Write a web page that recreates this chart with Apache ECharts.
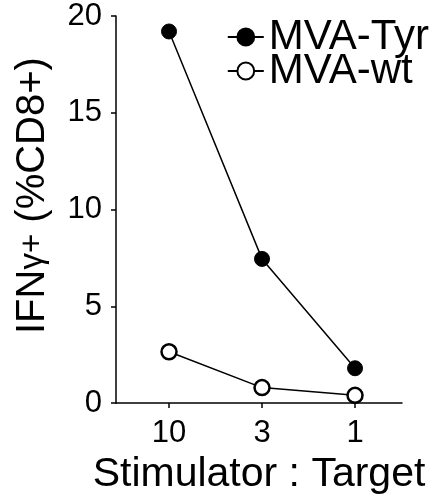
<!DOCTYPE html>
<html lang="en">
<head>
    <meta charset="UTF-8">
    <title>IFNg+ CD8 response</title>
    <script src="https://cdn.jsdelivr.net/npm/echarts@6/dist/echarts.min.js"></script>
    <style>
        html, body { margin: 0; padding: 0; background: #fff; }
        #main { width: 434px; height: 500px; }
    </style>
</head>
<body>
    <div id="main"></div>
    <script>
        // data
        var ratios = ['10', '3', '1'];
        var mvaTyr = [19.2, 7.45, 1.8];
        var mvaWt = [2.65, 0.8, 0.4];
        var yTicks = [0, 5, 10, 15, 20];

        var font = 'Liberation Sans, Arial, sans-serif';
        var chart = echarts.init(document.getElementById('main'));

        function toPoints(vals) {
            return vals.map(function (v, i) { return [i, v]; });
        }

        var option = {
            animation: false,
            backgroundColor: '#fff',
            textStyle: { fontFamily: font, color: '#000' },
            grid: { left: 116, right: 32, top: 16, bottom: 95 },
            legend: {
                orient: 'vertical',
                right: 5,
                top: 16,
                padding: 0,
                itemWidth: 36,
                itemHeight: 21,
                itemGap: -8,
                textStyle: { fontSize: 42, fontFamily: font, color: '#000', lineHeight: 31 },
                data: ['MVA-Tyr', 'MVA-wt']
            },
            xAxis: {
                type: 'value',
                min: -0.57,
                max: 2.505,
                name: 'Stimulator : Target',
                nameLocation: 'middle',
                nameGap: 49,
                nameTextStyle: { fontSize: 41, fontFamily: font, color: '#000' },
                splitLine: { show: false },
                axisLine: { show: true, onZero: false, lineStyle: { color: '#000', width: 1.5 } },
                axisTick: { show: true, length: 5, lineStyle: { color: '#000', width: 1.5 }, customValues: [0, 1, 2] },
                axisLabel: {
                    fontSize: 31, color: '#000', margin: 15, fontFamily: font,
                    customValues: [0, 1, 2],
                    formatter: function (v) { return ratios[Math.round(v)]; }
                }
            },
            yAxis: {
                type: 'value',
                min: 0,
                max: 20,
                interval: 5,
                name: '{a|IFN}{b|γ+}{a| (%CD8+)}',
                nameLocation: 'middle',
                nameGap: 63,
                nameTextStyle: {
                    padding: [0, 0, 0, 28],
                    rich: {
                        a: { fontSize: 40, fontFamily: font, color: '#000' },
                        b: { fontSize: 33, fontFamily: font, color: '#000' }
                    }
                },
                splitLine: { show: false },
                axisLine: { show: true, onZero: false, lineStyle: { color: '#000', width: 1.5 } },
                axisTick: { show: true, length: 5, lineStyle: { color: '#000', width: 1.5 } },
                axisLabel: {
                    fontSize: 31, color: '#000', margin: 14, fontFamily: font,
                    formatter: function (v) { return yTicks.indexOf(v) >= 0 ? String(v) : ''; }
                }
            },
            series: [
                {
                    name: 'MVA-Tyr',
                    type: 'line',
                    data: toPoints(mvaTyr),
                    symbol: 'circle',
                    symbolSize: 15,
                    lineStyle: { color: '#000', width: 1.5 },
                    itemStyle: { color: '#000', borderColor: '#000', borderWidth: 1 }
                },
                {
                    name: 'MVA-wt',
                    type: 'line',
                    data: toPoints(mvaWt),
                    symbol: 'circle',
                    symbolSize: 15,
                    lineStyle: { color: '#000', width: 1.5 },
                    itemStyle: { color: '#fff', borderColor: '#000', borderWidth: 2.5 }
                }
            ]
        };
        chart.setOption(option);
    </script>
</body>
</html>
